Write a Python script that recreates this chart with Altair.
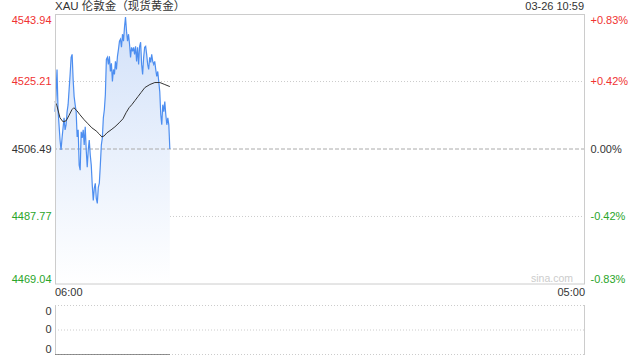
import altair as alt
import numpy as np
import pandas as pd

# ---- data ----
price = [
    4516.83, 4521.58, 4528.56, 4517.39, 4513.20, 4509.00, 4506.21, 4509.56, 4512.36, 4515.15,
    4511.80, 4513.20, 4516.83, 4518.78, 4522.97, 4527.17, 4531.92, 4532.75, 4525.77, 4521.02,
    4518.78, 4516.83, 4509.84, 4511.80, 4502.02, 4500.62, 4511.24, 4509.56, 4511.80, 4507.61,
    4512.64, 4506.21, 4501.46, 4506.21, 4509.00, 4504.81, 4502.02, 4496.43, 4492.24, 4495.59,
    4496.99, 4492.80, 4491.40, 4495.87, 4496.99, 4502.02, 4507.61, 4509.56, 4515.15, 4517.39,
    4521.58, 4531.36, 4531.92, 4529.96, 4532.19, 4528.00, 4530.24, 4525.21, 4528.56, 4527.17,
    4530.80, 4528.56, 4532.19, 4534.15, 4536.39, 4536.94, 4534.71, 4538.34, 4536.39, 4540.30,
    4543.09, 4539.18, 4536.39, 4538.34, 4535.55, 4531.92, 4534.71, 4533.59, 4534.71, 4532.75,
    4534.99, 4530.80, 4534.71, 4529.96, 4534.99, 4536.11, 4529.96, 4527.17, 4531.92, 4534.71,
    4534.99, 4532.75, 4529.96, 4528.56, 4531.92, 4530.52, 4532.75, 4530.80, 4529.96, 4530.80,
    4528.56, 4526.61, 4528.00, 4525.21, 4522.42, 4515.99, 4513.20, 4518.78, 4516.83, 4519.62,
    4515.99, 4513.20, 4515.15, 4513.20, 4506.49,
]
avg_minutes = [0, 5, 13, 21, 29, 36, 44, 49, 57, 65, 76, 86, 96, 107, 115, 122, 128, 135, 146,
               156, 167, 177, 185, 193, 200, 208, 216, 224, 234, 247, 260, 273, 286, 299]
avg_price = [4519.62, 4518.50, 4515.15, 4514.03, 4514.31, 4515.71, 4517.39, 4517.95, 4517.11,
             4515.99, 4514.59, 4513.48, 4512.36, 4511.52, 4510.68, 4509.84, 4510.12, 4510.96,
             4511.80, 4512.64, 4513.75, 4514.87, 4516.55, 4517.95, 4518.78, 4519.90, 4521.02,
             4522.14, 4523.53, 4524.37, 4524.93, 4524.93, 4524.37, 4523.81]
axis_prices = [4469.04, 4487.77, 4506.49, 4525.21, 4543.94]
prev_close = 4506.49
dotted_grid = [4487.77, 4525.21]
x_labels = ["06:00", "05:00"]
x_label_minutes = [0, 1380]
session_minutes = 1380
last_minute = 299
vol_ticks = [0, 0.5, 1]
title_text = "XAU 伦敦金（现货黄金）"
time_text = "03-26 10:59"

RED, GREEN, DARK = "#f03232", "#2aa52a", "#333333"
FONT = "Liberation Sans, Arial, Noto Sans CJK SC"

minutes = np.linspace(0, last_minute, len(price)).round(2)
df = pd.DataFrame({"t": minutes, "price": price, "base": axis_prices[0]})
avg_df = pd.DataFrame({"t": avg_minutes, "price": avg_price})
vol_df = pd.DataFrame({"t": np.arange(0, last_minute + 1), "vol": 0})
grid_df = pd.DataFrame({"price": dotted_grid})
zero_df = pd.DataFrame({"price": [prev_close]})
xl_left = pd.DataFrame({"t": x_label_minutes[:1], "label": x_labels[:1]})
xl_right = pd.DataFrame({"t": x_label_minutes[1:], "label": x_labels[1:]})

xs = alt.Scale(domain=[0, session_minutes], nice=False, zero=False)
ys = alt.Scale(domain=[axis_prices[0], axis_prices[-1]], range=[270, 0], nice=False, zero=False)
vs = alt.Scale(domain=[0, 1], range=[340.5, 291], nice=False, zero=False)
X = alt.X("t:Q", scale=xs, axis=None)

color_expr = {"expr": f"datum.value > {prev_close + 0.01} ? '{RED}' : (datum.value < {prev_close - 0.01} ? '{GREEN}' : '{DARK}')"}
pct = f"format(abs(datum.value - {prev_close}) / {prev_close} * 100, '.2f') + '%'"

left_axis = alt.Axis(orient="left", values=axis_prices, format=".2f", labelColor=color_expr,
                     labelFlush=True, domain=False, ticks=False, grid=False, title=None,
                     labelFontSize=11, labelFont=FONT, labelPadding=4)
right_axis = alt.Axis(orient="right", values=axis_prices, labelColor=color_expr,
                      labelExpr=f"abs(datum.value - {prev_close}) < 0.005 ? '0.00%' : (datum.value > {prev_close} ? '+' : '-') + {pct}",
                      labelFlush=True, domain=False, ticks=False, grid=False, title=None,
                      labelFontSize=11, labelFont=FONT, labelPadding=5)
vol_axis = alt.Axis(orient="left", values=vol_ticks, labelExpr="'0'", labelFlush=True,
                    domain=False, ticks=False, grid=False, title=None, labelColor=DARK,
                    labelFontSize=11, labelFont=FONT, labelPadding=4)

one = alt.Data(values=[{"k": 1}])


def rule(x, y, x2=None, y2=None, color="#cccccc", dash=None, width=1):
    enc = {"x": alt.value(x), "y": alt.value(y)}
    if x2 is not None:
        enc["x2"] = alt.value(x2)
    if y2 is not None:
        enc["y2"] = alt.value(y2)
    kw = dict(color=color, strokeWidth=width)
    if dash:
        kw["strokeDash"] = dash
    return alt.Chart(one).mark_rule(**kw).encode(**enc)


def text(x, y, s, align="left", color=DARK, size=11):
    return alt.Chart(one).mark_text(align=align, baseline="middle", font=FONT, fontSize=size,
                                    color=color, text=s).encode(x=alt.value(x), y=alt.value(y))


gradient = alt.LinearGradient(gradient="linear", x1=0, x2=0, y1=0, y2=1,
                              stops=[alt.GradientStop(color="#d2e1f9", offset=0),
                                     alt.GradientStop(color="#ffffff", offset=1)])

area = alt.Chart(df).mark_area(color=gradient, opacity=1).encode(
    x=X, y=alt.Y("price:Q", scale=ys, axis=left_axis), y2="base:Q")
grid = alt.Chart(grid_df).mark_rule(color="#cccccc", strokeDash=[1, 2]).encode(
    y=alt.Y("price:Q", scale=ys, axis=None))
zero = alt.Chart(zero_df).mark_rule(color="#aaaaaa", strokeDash=[4, 2]).encode(
    y=alt.Y("price:Q", scale=ys, axis=right_axis))
line = alt.Chart(df).mark_line(color="#4d8ef0", strokeWidth=1.2).encode(
    x=X, y=alt.Y("price:Q", scale=ys, axis=None))
avg = alt.Chart(avg_df).mark_line(color="#333333", strokeWidth=1).encode(
    x=X, y=alt.Y("price:Q", scale=ys, axis=None))
vol = alt.Chart(vol_df).mark_line(color="#666666", strokeWidth=1).encode(
    x=X, y=alt.Y("vol:Q", scale=vs, axis=vol_axis))
xlab_l = alt.Chart(xl_left).mark_text(align="left", baseline="middle", font=FONT, fontSize=11,
                                      color=DARK).encode(x=X, y=alt.value(279), text="label:N")
xlab_r = alt.Chart(xl_right).mark_text(align="right", baseline="middle", font=FONT, fontSize=11,
                                       color=DARK).encode(x=X, y=alt.value(279), text="label:N")

layers = [
    grid, area, zero, line, avg,
    rule(0.5, 0, y2=270), rule(529.5, 0, y2=270), rule(0, 0.5, x2=530), rule(0, 270, x2=530),
    rule(0.5, 291, y2=341), rule(529.5, 291, y2=341),
    rule(0, 291.5, x2=530, dash=[1, 2]), rule(0, 316, x2=530, dash=[1, 2]),
    rule(0, 340.5, x2=530, dash=[1, 2]),
    vol, xlab_l, xlab_r,
    text(0, -7, title_text, size=11.5),
    text(529, -7, time_text, align="right"),
    text(518, 265, "sina.com", align="right", color="#cccccc", size=10.5),
]

chart = alt.layer(*layers).resolve_scale(y="independent").properties(
    width=530, height=341,
    autosize=alt.AutoSizeParams(type="none"),
    padding={"left": 55, "top": 14, "right": 55, "bottom": 5},
).configure_view(stroke=None)

chart.save("out.html", embed_options={"renderer": "svg", "actions": False})
